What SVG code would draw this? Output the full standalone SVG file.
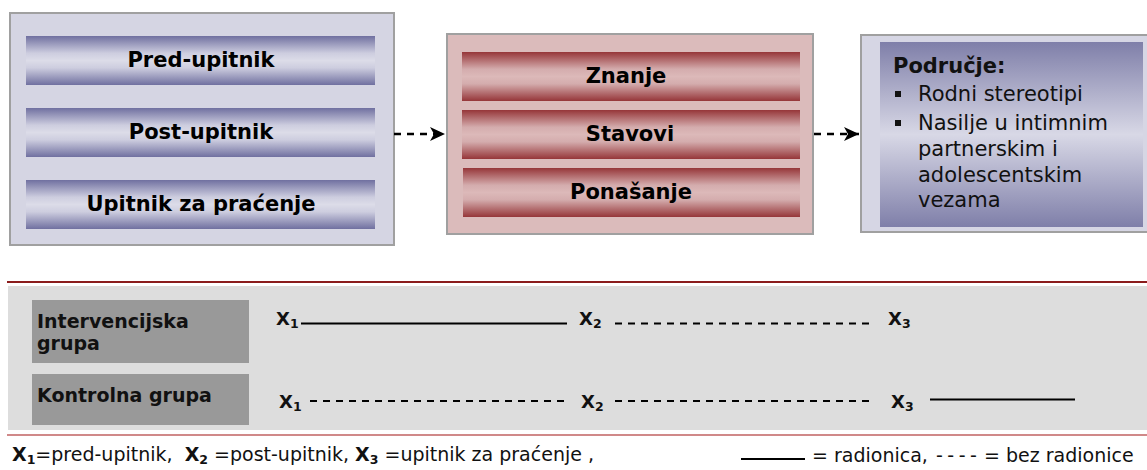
<svg xmlns="http://www.w3.org/2000/svg" width="1147" height="470" viewBox="0 0 1147 470">
<defs>
<linearGradient id="gBlue" x1="0" y1="0" x2="0" y2="1">
<stop offset="0" stop-color="#7070a0"/>
<stop offset="0.35" stop-color="#cdcddf"/>
<stop offset="0.5" stop-color="#dcdce8"/>
<stop offset="0.65" stop-color="#cdcddf"/>
<stop offset="1" stop-color="#7070a0"/>
</linearGradient>
<linearGradient id="gRed" x1="0" y1="0" x2="0" y2="1">
<stop offset="0" stop-color="#963639"/>
<stop offset="0.35" stop-color="#d4acad"/>
<stop offset="0.5" stop-color="#dcb9b9"/>
<stop offset="0.65" stop-color="#d4acad"/>
<stop offset="1" stop-color="#963639"/>
</linearGradient>
<linearGradient id="gArea" x1="0" y1="0" x2="0" y2="1">
<stop offset="0" stop-color="#7f7fa9"/>
<stop offset="0.5" stop-color="#d8d8e6"/>
<stop offset="1" stop-color="#7f7fa9"/>
</linearGradient>
<marker id="arr" viewBox="0 0 16 14" refX="15" refY="7" markerWidth="16" markerHeight="14" markerUnits="userSpaceOnUse" orient="auto">
<path d="M0,0 L15,7 L0,14 L4,7 Z" fill="#000"/>
</marker>
<style>
.outer{stroke:#a0a0a0;stroke-width:2}
.bt{font-family:"DejaVu Sans","Verdana",sans-serif;font-weight:bold;font-size:21px;fill:#000;text-anchor:middle}
.rt{font-family:"DejaVu Sans","Verdana",sans-serif;font-size:21px;fill:#111}
.lb{font-family:"DejaVu Sans","Verdana",sans-serif;font-weight:bold;font-size:19px;fill:#111}
.xl{font-family:"DejaVu Sans","Verdana",sans-serif;font-weight:bold;font-size:18px;fill:#111}
.sub{font-size:12.5px}
.lg{font-family:"DejaVu Sans","Verdana",sans-serif;font-size:19px;fill:#111}
.solid{stroke:#000;stroke-width:2;fill:none}
.dash{stroke:#000;stroke-width:2;stroke-dasharray:7 6;fill:none}
.conn{stroke:#000;stroke-width:2.5;stroke-dasharray:7 6;fill:none}
</style>
</defs>
<rect width="1147" height="470" fill="#fff"/>

<g id="instrumenti">
<rect class="outer" x="10" y="13" width="384" height="232" fill="#d5d5e3"/>
<rect x="26" y="36" width="349" height="49" fill="url(#gBlue)"/>
<rect x="26" y="108" width="349" height="49" fill="url(#gBlue)"/>
<rect x="26" y="180" width="349" height="49" fill="url(#gBlue)"/>
<text class="bt" x="201" y="67">Pred-upitnik</text>
<text class="bt" x="201" y="139">Post-upitnik</text>
<text class="bt" x="201" y="211">Upitnik za praćenje</text>
</g>

<g id="ishodi">
<rect class="outer" x="447" y="34" width="366" height="200" fill="#dbbbbb"/>
<rect x="462" y="52" width="338" height="49" fill="url(#gRed)"/>
<rect x="462" y="110" width="338" height="49" fill="url(#gRed)"/>
<rect x="463" y="168" width="337" height="49" fill="url(#gRed)"/>
<text class="bt" x="626" y="83">Znanje</text>
<text class="bt" x="630" y="141">Stavovi</text>
<text class="bt" x="631" y="199">Ponašanje</text>
</g>

<g id="podrucje">
<rect class="outer" x="861" y="35" width="300" height="197" fill="#d6d6e4"/>
<rect x="880" y="42" width="263" height="185" fill="url(#gArea)"/>
<text class="rt" x="893" y="73" font-weight="bold" fill="#000">Područje:</text>
<rect x="895" y="91" width="6" height="6" fill="#111"/>
<rect x="895" y="120" width="6" height="6" fill="#111"/>
<text class="rt" x="918" y="101">Rodni stereotipi</text>
<text class="rt" x="918" y="130">Nasilje u intimnim</text>
<text class="rt" x="918" y="156">partnerskim i</text>
<text class="rt" x="918" y="182">adolescentskim</text>
<text class="rt" x="918" y="207">vezama</text>
</g>

<g id="connectors">
<line class="conn" x1="394" y1="134" x2="445" y2="134" marker-end="url(#arr)"/>
<line class="conn" x1="814" y1="134" x2="859" y2="134" marker-end="url(#arr)"/>
</g>

<g id="dizajn">
<line x1="7" y1="282" x2="1147" y2="282" stroke="#8b1c1c" stroke-width="2"/>
<rect x="8" y="286" width="1139" height="144" fill="#dddddd"/>
<line x1="7" y1="435" x2="1147" y2="435" stroke="#c06262" stroke-width="1.5"/>

<g id="intervencijska">
<rect x="32" y="300" width="217" height="63" fill="#999999"/>
<text class="lb" x="37" y="328">Intervencijska</text>
<text class="lb" x="37" y="350">grupa</text>
</g>
<g id="kontrolna">
<rect x="32" y="374" width="217" height="51" fill="#999999"/>
<text class="lb" x="37" y="402">Kontrolna grupa</text>
</g>

<g id="red1">
<text class="xl" x="276" y="325">X<tspan class="sub" dy="3">1</tspan></text>
<line class="solid" x1="301" y1="323.5" x2="567" y2="323.5"/>
<text class="xl" x="579" y="325">X<tspan class="sub" dy="3">2</tspan></text>
<line class="dash" x1="615" y1="323.5" x2="873" y2="323.5"/>
<text class="xl" x="888" y="325">X<tspan class="sub" dy="3">3</tspan></text>
</g>
<g id="red2">
<text class="xl" x="279" y="408">X<tspan class="sub" dy="3">1</tspan></text>
<line class="dash" x1="310" y1="401" x2="568" y2="401"/>
<text class="xl" x="581" y="408">X<tspan class="sub" dy="3">2</tspan></text>
<line class="dash" x1="615" y1="401" x2="873" y2="401"/>
<text class="xl" x="891" y="408">X<tspan class="sub" dy="3">3</tspan></text>
<line class="solid" x1="930" y1="399.5" x2="1075" y2="399.5"/>
</g>
</g>

<g id="legenda">
<text class="lg" x="12" y="461"><tspan font-weight="bold">X</tspan><tspan font-weight="bold" class="sub" dy="3">1</tspan><tspan dy="-3">=pred-upitnik,&#160; </tspan><tspan font-weight="bold">X</tspan><tspan font-weight="bold" class="sub" dy="3">2</tspan><tspan dy="-3"> =post-upitnik, </tspan><tspan font-weight="bold">X</tspan><tspan font-weight="bold" class="sub" dy="3">3</tspan><tspan dy="-3"> =upitnik za praćenje ,</tspan></text>
<line class="solid" x1="741" y1="459" x2="805" y2="459"/>
<text class="lg" x="812" y="462">= radionica,</text>
<text class="lg" x="936" y="462" letter-spacing="4.5">----</text>
<text class="lg" x="984" y="462">= bez radionice</text>
</g>
</svg>
